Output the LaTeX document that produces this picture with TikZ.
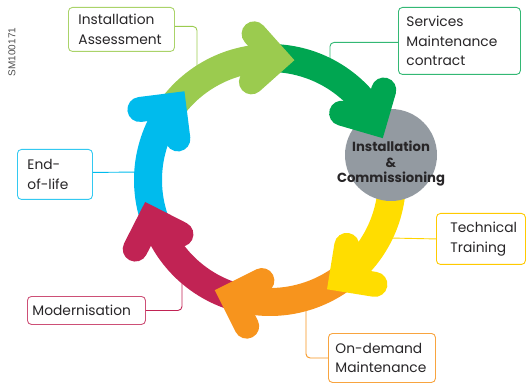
\documentclass[tikz,border=0pt]{standalone}
\usepackage{fontspec}
\setmainfont{Poppins}
\newfontfamily\smfont{Liberation Sans}
\usetikzlibrary{calc}
\definecolor{lgreen}{RGB}{155,203,79}
\definecolor{dgreen}{RGB}{0,166,81}
\definecolor{ayellow}{RGB}{255,221,0}
\definecolor{aorange}{RGB}{247,148,29}
\definecolor{crimson}{RGB}{193,35,84}
\definecolor{ablue}{RGB}{0,187,237}
\definecolor{cgray}{RGB}{147,154,161}
\definecolor{txt}{RGB}{40,38,40}
\AtBeginDocument{\hyphenpenalty=10000 \exhyphenpenalty=10000}
\tikzset{
  box/.style={draw, rounded corners=4pt, line width=0.9pt, fill=white, text=txt,
    align=left, anchor=north west, inner ysep=0pt,
    font=\fontsize{13.8}{19.8}\selectfont},
  conn/.style={line width=0.9pt, rounded corners=4pt},
  shaft/.style={line width=28pt, line cap=butt},
  headstroke/.style={line width=25pt, line cap=round, line join=miter},
}
% #1 colour, #2 angle of the head corner, #3 its radius
\newcommand\arrowhead[3]{%
  \draw[headstroke, #1] ($(ctr)+(#2:#3)+(#2+45:34)$) -- ($(ctr)+(#2:#3)$) -- ($(ctr)+(#2:#3)+(#2+135:34)$);}
\begin{document}
\begin{tikzpicture}[x=1pt,y=1pt]
\useasboundingbox (0,0) rectangle (527,383);
\coordinate (ctr) at (270,203);

% label boxes
\node[box, draw=lgreen!85, text width=86pt, inner xsep=10pt, minimum height=44pt] (b1) at (68,376) {Installation\\Assessment};
\node[box, draw=dgreen!80, text width=106pt, inner xsep=8pt, minimum height=67pt] (b2) at (398,376) {Services\\Maintenance\\contract};
\node[box, draw=ablue!80, text width=55pt, inner xsep=10pt, minimum height=50pt] (b3) at (17,234) {End-\\of-life};
\node[box, draw=ayellow!80!orange, text width=61pt, inner xsep=14pt, minimum height=51pt] (b4) at (436,170) {Technical\\Training};
\node[box, draw=aorange!85, text width=93pt, inner xsep=7pt, minimum height=49pt] (b5) at (328,50) {On-demand\\Maintenance};
\node[box, draw=crimson!80, text width=108pt, inner xsep=5pt, minimum height=28pt] (b6) at (27,87) {Modernisation};

% connector ends on the ring
\coordinate (e1) at (197,314);
\coordinate (e2) at (330,318);
\coordinate (e3) at (140,211);
\coordinate (e4) at (390,145);
\coordinate (e5) at (306,75);
\coordinate (e6) at (182,102);

\draw[conn, lgreen] ([yshift=3pt]b1.east) -| (e1);
\draw[conn, dgreen!80] ([yshift=-1.5pt]b2.west) -| (e2);
\draw[conn, ablue] ([yshift=2pt]b3.east) -- (e3);
\draw[conn, ayellow!90!orange] (b4.west) -- (e4);
\draw[conn, aorange] (b5.west) -| (e5);
\draw[conn, crimson] (b6.east) -| (e6);

% shafts
\draw[shaft, ablue]   ($(ctr)+(198:122)$) arc[start angle=198, end angle=142.2, radius=122];
\draw[shaft, lgreen]  ($(ctr)+(142.2:122)$) arc[start angle=142.2, end angle=87, radius=122];
\draw[shaft, dgreen]  ($(ctr)+(87:122)$) arc[start angle=87, end angle=29, radius=122];
\draw[shaft, ayellow] ($(ctr)+(6:122)$) arc[start angle=6, end angle=-54, radius=122];
\draw[shaft, aorange] ($(ctr)+(-54:122)$) arc[start angle=-54, end angle=-108.4, radius=122];
\draw[shaft, crimson] ($(ctr)+(-108.4:122)$) arc[start angle=-108.4, end angle=-162, radius=122];

% centre circle
\node[circle, fill=cgray, minimum size=92pt, inner sep=0pt] (ic) at (391,228) {};
\node[text=txt, align=center, font=\fontsize{13.2}{15.5}\selectfont\bfseries] (ict) at ([yshift=-9pt]ic.center) {Installation\\\&\\Commissioning};

% heads
\arrowhead{ablue}{142.2}{122}
\arrowhead{lgreen}{86.8}{121}
\arrowhead{dgreen}{28.8}{119}
\arrowhead{ayellow}{-54.2}{122}
\arrowhead{aorange}{-108.4}{122}
\arrowhead{crimson}{-162}{125.5}

\node[rotate=90, anchor=center, text=black!70, font=\smfont\fontsize{10}{10}\selectfont] (sm) at (12,331) {SM100171};
\end{tikzpicture}
\end{document}
